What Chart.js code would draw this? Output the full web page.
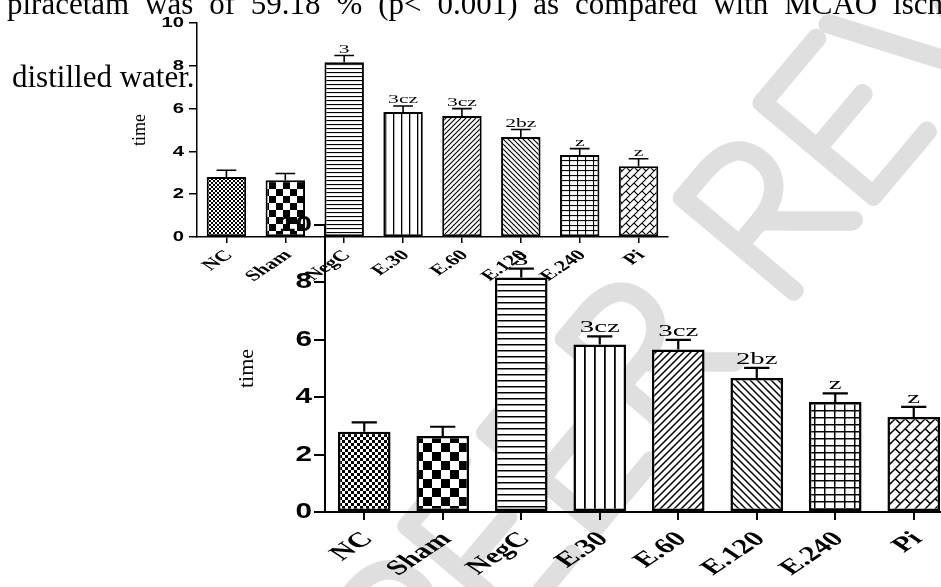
<!DOCTYPE html>
<html>
<head>
<meta charset="utf-8">
<script src="https://cdn.jsdelivr.net/npm/chart.js@4.4.0/dist/chart.umd.min.js"></script>
<style>
  html, body { margin: 0; padding: 0; background: #fff; }
  body { width: 941px; height: 587px; overflow: hidden; position: relative; }
  .abs { position: absolute; }
  .txt { position: absolute; white-space: nowrap; font-family: "Liberation Serif", "Times New Roman", serif;
         font-size: 31px; line-height: 31px; color: #000; }
</style>
</head>
<body>
<canvas id="mark" class="abs" width="941" height="587" style="left:0;top:0"></canvas>
<div id="line1" class="txt" style="left:7px;top:-12px">piracetam was of 59.18 % (p&lt; 0.001) as compared with MCAO isch</div>
<div class="txt" style="left:12px;top:61px">distilled water.</div>
<div class="abs" style="left:129px;top:0px;width:571px;height:300px"><canvas id="small"></canvas></div>
<div class="abs" style="left:234px;top:200px;width:719px;height:387px"><canvas id="big"></canvas></div>

<script>
const CATEGORIES = ['NC', 'Sham', 'NegC', 'E.30', 'E.60', 'E.120', 'E.240', 'Pi'];
const MEANS = [2.80, 2.65, 8.17, 5.84, 5.66, 4.67, 3.83, 3.31];
const SEM = [0.32, 0.32, 0.31, 0.28, 0.34, 0.35, 0.30, 0.35];
const SIG = ['', '', '3', '3cz', '3cz', '2bz', 'z', 'z'];
const Y_MIN = 0, Y_MAX = 10, Y_STEP = 2;

const FILLS = ['fineCheck', 'check', 'hlines', 'vlines', 'diagUp', 'diagDown', 'grid', 'brick'];
const SANS = '"Liberation Sans", Arial, sans-serif';
const SERIF = '"Liberation Serif", "Times New Roman", serif';

/* ---------- fill patterns ---------- */
function tile(w, h, draw) {
  const c = document.createElement('canvas');
  c.width = w; c.height = h;
  const g = c.getContext('2d');
  g.fillStyle = '#fff'; g.fillRect(0, 0, w, h);
  g.fillStyle = '#000'; g.strokeStyle = '#000';
  draw(g, w, h);
  return g.createPattern(c, 'repeat');
}

function seg(g, x1, y1, x2, y2) { g.moveTo(x1, y1); g.lineTo(x2, y2); }

// draws a segment and its copies shifted by one tile, so the tile wraps cleanly
function wrapSeg(g, w, h, x1, y1, x2, y2) {
  for (let i = -1; i <= 1; i++)
    for (let j = -1; j <= 1; j++) seg(g, x1 + i * w, y1 + j * h, x2 + i * w, y2 + j * h);
}

function makePattern(kind, s) {
  const r = v => Math.max(2, Math.round(v * s));
  const lw = 1.1 * s;
  switch (kind) {
    case 'fineCheck': {
      const c = r(2.4);
      return tile(2 * c, 2 * c, g => { g.fillRect(0, 0, c, c); g.fillRect(c, c, c, c); });
    }
    case 'check': {
      const c = r(6.5);
      return tile(2 * c, 2 * c, g => { g.fillRect(0, 0, c, c); g.fillRect(c, c, c, c); });
    }
    case 'hlines': {
      const p = r(4.4);
      return tile(4, p, (g, w) => { g.fillRect(0, 0, w, lw); });
    }
    case 'vlines': {
      const p = r(7.8);
      return tile(p, 4, (g, w, h) => { g.fillRect(0, 0, lw * 1.2, h); });
    }
    case 'diagUp': {
      const p = r(5);
      return tile(p, p, g => { g.lineWidth = lw; g.beginPath(); wrapSeg(g, p, p, 0, p, p, 0); g.stroke(); });
    }
    case 'diagDown': {
      const p = r(5);
      return tile(p, p, g => { g.lineWidth = lw; g.beginPath(); wrapSeg(g, p, p, 0, 0, p, p); g.stroke(); });
    }
    case 'grid': {
      const w = r(7.8), h = r(5.4);
      return tile(w, h, g => { g.fillRect(0, 0, w, lw); g.fillRect(0, 0, lw, h); });
    }
    case 'brick': {
      const q = r(3.6), t = 2 * q;
      return tile(t, t, g => {
        g.lineWidth = lw; g.beginPath();
        wrapSeg(g, t, t, 0, t, t, 0);
        wrapSeg(g, t, t, 1.25 * q, 0.75 * q, 0.25 * q, -0.25 * q);
        wrapSeg(g, t, t, 0.25 * q, 1.75 * q, 1.25 * q, 2.75 * q);
        g.stroke();
      });
    }
  }
}

/* ---------- labels, error bars, significance letters ---------- */
const annot = {
  id: 'annot',
  afterDraw(chart, args, o) {
    const { ctx, chartArea } = chart;
    const x = chart.scales.x, y = chart.scales.y;
    ctx.save();
    ctx.fillStyle = '#000';
    ctx.strokeStyle = '#000';

    // y tick labels (stretched horizontally like the original)
    ctx.font = 'bold ' + o.tickFont + 'px ' + SANS;
    ctx.textAlign = 'right';
    ctx.textBaseline = 'middle';
    y.ticks.forEach(t => {
      ctx.save();
      ctx.translate(chartArea.left - o.yTick - o.yPad, y.getPixelForValue(t.value));
      ctx.scale(o.kY, 1);
      ctx.fillText(String(t.value), 0, 0);
      ctx.restore();
    });

    // x category labels, rotated
    ctx.font = 'bold ' + o.labelFont + 'px ' + SERIF;
    CATEGORIES.forEach((lab, i) => {
      ctx.save();
      ctx.translate(x.getPixelForTick(i) + o.labelDx, chartArea.bottom + o.labelOffset);
      ctx.scale(o.kX, 1);
      ctx.rotate(-Math.PI / 4);
      ctx.fillText(lab, 0, 0);
      ctx.restore();
    });

    // error bars (upper SEM) + letters
    const meta = chart.getDatasetMeta(0);
    ctx.lineWidth = o.errW;
    ctx.font = o.sigFont + 'px ' + SERIF;
    ctx.textAlign = 'center';
    ctx.textBaseline = 'alphabetic';
    meta.data.forEach((bar, i) => {
      const top = y.getPixelForValue(MEANS[i]);
      const hi = y.getPixelForValue(MEANS[i] + SEM[i]);
      const half = bar.width * o.cap / 2;
      ctx.beginPath();
      seg(ctx, bar.x, top, bar.x, hi);
      seg(ctx, bar.x - half, hi, bar.x + half, hi);
      ctx.stroke();
      if (SIG[i]) {
        ctx.save();
        ctx.translate(bar.x, hi - o.sigGap);
        ctx.scale(o.kA, 1);
        ctx.fillText(SIG[i], 0, 0);
        ctx.restore();
      }
    });
    ctx.restore();
  }
};

function buildChart(id, o) {
  return new Chart(document.getElementById(id), {
    type: 'bar',
    data: {
      labels: CATEGORIES,
      datasets: [{
        data: MEANS,
        backgroundColor: FILLS.map(f => makePattern(f, o.s)),
        borderColor: '#000',
        borderWidth: o.border,
        borderSkipped: false,
        barPercentage: 0.67,
        categoryPercentage: 1
      }]
    },
    options: {
      responsive: true,
      maintainAspectRatio: false,
      animation: false,
      events: [],
      layout: { padding: o.padding },
      plugins: { legend: { display: false }, tooltip: { enabled: false }, annot: o },
      scales: {
        x: {
          grid: { display: true, drawOnChartArea: false, offset: false, tickLength: o.xTick, color: '#000', lineWidth: o.axis },
          border: { display: true, color: '#000', width: o.axis },
          ticks: { display: false },
          afterFit: sc => { sc.height = o.xHeight; }
        },
        y: {
          min: Y_MIN, max: Y_MAX,
          grid: { display: true, drawOnChartArea: false, tickLength: o.yTick, color: '#000', lineWidth: o.axis },
          border: { display: true, color: '#000', width: o.axis },
          ticks: { display: false, stepSize: Y_STEP },
          title: { display: true, text: 'time', color: '#000', padding: 0,
                   font: { family: SERIF, size: o.titleSize, weight: 'normal' } },
          afterFit: sc => { sc.width = o.yWidth; }
        }
      }
    },
    plugins: [annot]
  });
}

/* ---------- page text ---------- */
function justifyLine1() {
  const el = document.getElementById('line1');
  const m = document.createElement('canvas').getContext('2d');
  m.font = '31px ' + SERIF;
  const head = 'piracetam was of 59.18 % (p< 0.001) as compared with MCAO ';
  const spaces = head.split(' ').length - 1;
  const ws = (893 - 7 - m.measureText(head).width) / spaces;
  el.style.wordSpacing = ws.toFixed(2) + 'px';
}

/* ---------- watermark: thin letters traced with a fat round pen ---------- */
function drawMark() {
  const g = document.getElementById('mark').getContext('2d');
  const size = 210;
  g.save();
  g.font = '100 ' + size + 'px Lato, Roboto, sans-serif';
  const txt = 'UNDER PEER REVIEW';
  const before = 'UNDER PEER ';
  const lx = g.measureText(before).width + g.measureText('R').width / 2;
  const ly = -0.72 * size / 2;
  const a = -50 * Math.PI / 180;
  const cx = 760, cy = 215;   // where the R of REVIEW sits
  const ox = cx - (lx * Math.cos(a) - ly * Math.sin(a));
  const oy = cy - (lx * Math.sin(a) + ly * Math.cos(a));
  g.translate(ox, oy);
  g.rotate(a);
  g.strokeStyle = '#dfdfdf';
  g.fillStyle = '#dfdfdf';
  g.lineWidth = 17;
  g.lineJoin = 'round';
  g.lineCap = 'round';
  g.strokeText(txt, 0, 0);
  g.fillText(txt, 0, 0);
  g.restore();
}

justifyLine1();
drawMark();

buildChart('small', {
  s: 1, yWidth: 68, xHeight: 63, padding: { top: 23, right: 32, left: 0, bottom: 0 },
  xTick: 6, yTick: 8, yPad: 5, axis: 1.5, border: 2, errW: 1.6, cap: 0.5,
  titleSize: 18, tickFont: 15, labelFont: 15, sigFont: 12, sigGap: 3,
  kX: 1.5, kY: 1.35, kA: 1.8, labelOffset: 16, labelDx: 3
});

buildChart('big', {
  s: 1.34, yWidth: 91, xHeight: 75, padding: { top: 25, right: 0, left: 0, bottom: 0 },
  xTick: 8, yTick: 11, yPad: 2, axis: 2, border: 2.5, errW: 2.2, cap: 0.48,
  titleSize: 22, tickFont: 22, labelFont: 21, sigFont: 16, sigGap: 4,
  kX: 1.5, kY: 1.35, kA: 1.8, labelOffset: 24, labelDx: 4
});
</script>
</body>
</html>
